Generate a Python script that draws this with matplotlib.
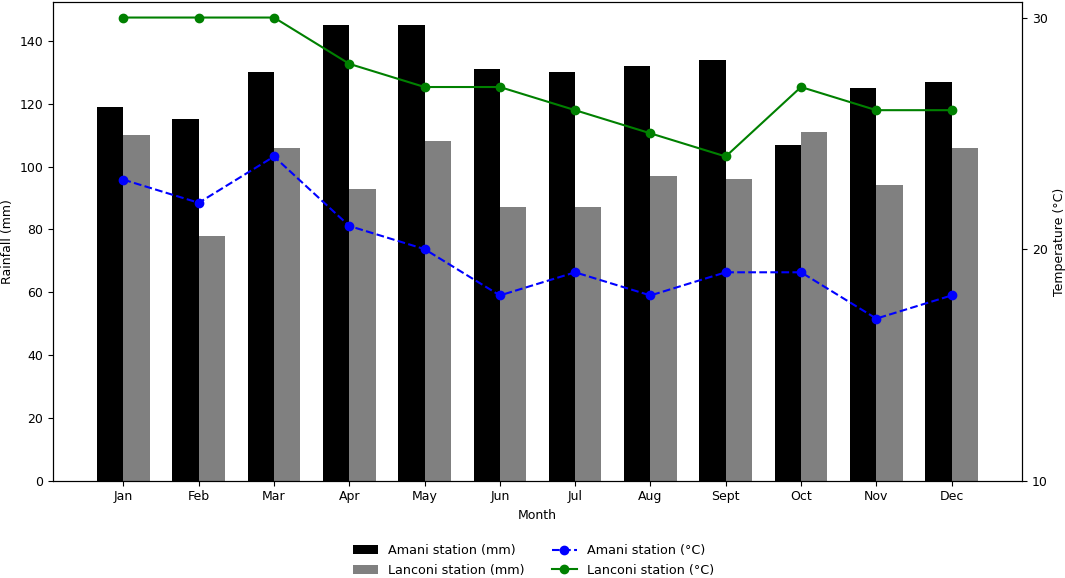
import matplotlib
matplotlib.use("Agg")
import matplotlib.pyplot as plt
import numpy as np

plt.rcParams["font.size"] = 9

months = ["Jan", "Feb", "Mar", "Apr", "May", "Jun", "Jul", "Aug", "Sept", "Oct", "Nov", "Dec"]
amani_rain = [119, 115, 130, 145, 145, 131, 130, 132, 134, 107, 125, 127]
lanconi_rain = [110, 78, 106, 93, 108, 87, 87, 97, 96, 111, 94, 106]
amani_temp = [23, 22, 24, 21, 20, 18, 19, 18, 19, 19, 17, 18]
lanconi_temp = [30, 30, 30, 28, 27, 27, 26, 25, 24, 27, 26, 26]
temp_ticks = [10, 20, 30]

fig = plt.figure(figsize=(10.65, 5.78), dpi=100)
ax = fig.add_axes([0.0498, 0.1683, 0.9098, 0.8274])
x = np.arange(len(months))
w = 0.35
b1 = ax.bar(x - w / 2, amani_rain, w, color="black", label="Amani station (mm)")
b2 = ax.bar(x + w / 2, lanconi_rain, w, color="grey", label="Lanconi station (mm)")
ax.set_xticks(x)
ax.set_xticklabels(months)
ax.set_xlabel("Month")
ax.set_ylabel("Rainfall (mm)")

ax2 = ax.twinx()
l1, = ax2.plot(x, amani_temp, "--o", color="blue", label="Amani station (°C)")
l2, = ax2.plot(x, lanconi_temp, "-o", color="green", label="Lanconi station (°C)")
ax2.set_ylim(bottom=10)
ax2.set_yticks(temp_ticks)
ax2.set_ylabel("Temperature (°C)")

fig.legend(handles=[b1, b2, l1, l2], loc="center", bbox_to_anchor=(0.501, 0.0303),
           ncol=2, frameon=False, columnspacing=2.1, prop={"size": 9.2})

fig.savefig("out.png", dpi=100)
